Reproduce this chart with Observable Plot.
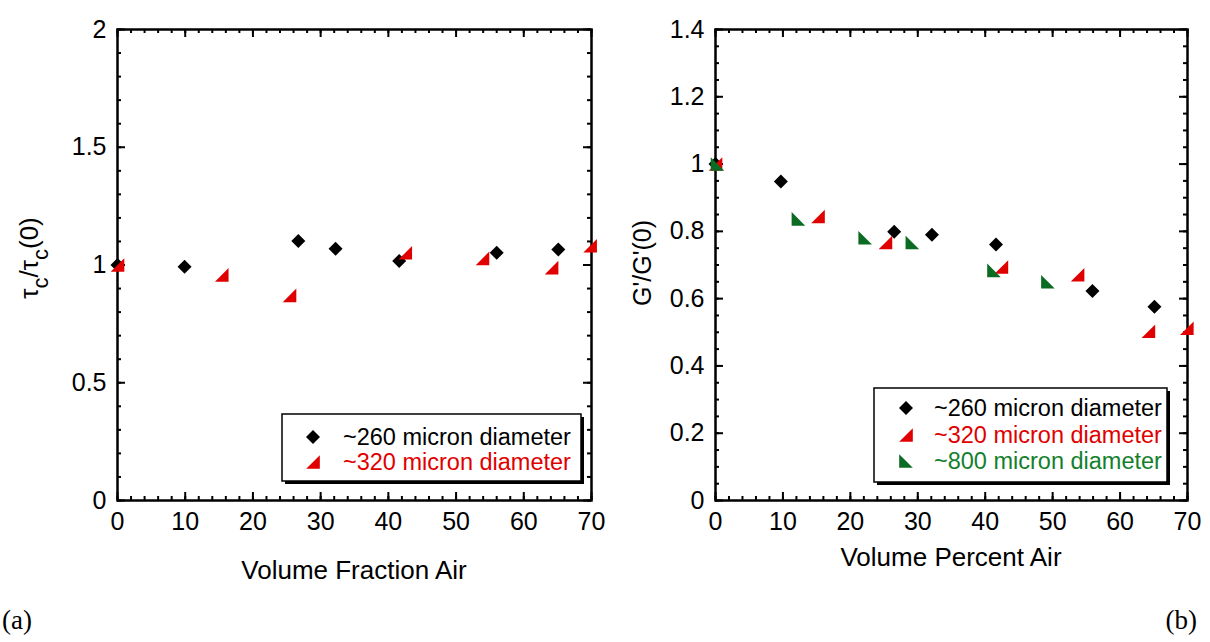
<!DOCTYPE html>
<html><head><meta charset="utf-8">
<script src="https://cdn.jsdelivr.net/npm/d3@7"></script>
<script src="https://cdn.jsdelivr.net/npm/@observablehq/plot@0.6"></script>
<style>
body{margin:0;background:#fff;}
#wrap{position:relative;width:1210px;height:642px;overflow:hidden;background:#fff;}
#wrap svg{position:absolute;top:0;overflow:visible;}
</style></head><body><div id="wrap"></div>
<script>
// ---------- data ----------
const seriesNames = ["~260 micron diameter", "~320 micron diameter", "~800 micron diameter"];
const markerColors = ["#000000", "#e00000", "#0b6b23"];
const textColors = ["#000000", "#e00000", "#13802d"];

// Panel (a): tau_c / tau_c(0) vs volume fraction air
const a260X = [0, 9.9, 26.7, 32.2, 41.6, 56.0, 65.1];
const a260Y = [1.0, 0.993, 1.102, 1.069, 1.017, 1.052, 1.066];
const a320X = [0, 15.4, 25.4, 42.5, 53.9, 64.1, 69.8];
const a320Y = [1.0, 0.958, 0.871, 1.052, 1.028, 0.989, 1.082];

// Panel (b): G'/G'(0) vs volume percent air
const b260X = [0, 9.7, 26.5, 32.1, 41.6, 55.9, 65.1];
const b260Y = [1.0, 0.948, 0.799, 0.790, 0.761, 0.623, 0.576];
const b320X = [0, 15.2, 25.2, 42.4, 53.7, 64.2, 69.9];
const b320Y = [1.0, 0.844, 0.767, 0.694, 0.671, 0.503, 0.512];
const b800X = [0.3, 12.3, 22.2, 29.2, 41.3, 49.3];
const b800Y = [1.0, 0.837, 0.781, 0.767, 0.684, 0.650];

// tick labels
const xTicks = [0, 10, 20, 30, 40, 50, 60, 70];
const aYTicks = [0, 0.5, 1, 1.5, 2];
const bYTicks = [0, 0.2, 0.4, 0.6, 0.8, 1, 1.2, 1.4];

const xTitleA = "Volume Fraction Air";
const xTitleB = "Volume Percent Air";
const yTitleB = "G'/G'(0)";

// ---------- symbols ----------
const rad = s => Math.sqrt(s / Math.PI);
const diamond = {draw(c, s){const r = rad(s); c.moveTo(0,-r); c.lineTo(r,0); c.lineTo(0,r); c.lineTo(-r,0); c.closePath();}};
const triR = {draw(c, s){const r = rad(s); c.moveTo(r,-r); c.lineTo(r,r); c.lineTo(-r,r); c.closePath();}};
const triL = {draw(c, s){const r = rad(s); c.moveTo(-r,-r); c.lineTo(-r,r); c.lineTo(r,r); c.closePath();}};
const symbols = [diamond, triR, triL];
const symR = [7, 6.8, 6.8];

const zipXY = (xs, ys) => xs.map((x, i) => ({x, y: ys[i]}));
const FONT = "'Liberation Sans', Arial, Helvetica, sans-serif";

function panel({series, yMax, yMajor, yMinor, ml, mr}) {
  const W = 605, H = 642, mt = 29, mb = 142;
  const fh = H - mt - mb, fw = W - ml - mr;
  const TL = 8, TM = 4, SW = 2;
  const xMinor = d3.range(0, 70.001, 2);
  const marks = [
    Plot.tickX(xMinor, {x: d => d, insetTop: fh - TM, strokeWidth: SW}),
    Plot.tickX(xMinor, {x: d => d, insetBottom: fh - TM, strokeWidth: SW}),
    Plot.tickX(xTicks, {x: d => d, insetTop: fh - TL, strokeWidth: SW}),
    Plot.tickX(xTicks, {x: d => d, insetBottom: fh - TL, strokeWidth: SW}),
    Plot.tickY(yMinor, {y: d => d, insetRight: fw - TM, strokeWidth: SW}),
    Plot.tickY(yMinor, {y: d => d, insetLeft: fw - TM, strokeWidth: SW}),
    Plot.tickY(yMajor, {y: d => d, insetRight: fw - TL, strokeWidth: SW}),
    Plot.tickY(yMajor, {y: d => d, insetLeft: fw - TL, strokeWidth: SW}),
    Plot.frame({stroke: "#000", strokeWidth: 2.5}),
    Plot.axisX({ticks: xTicks, tickSize: 0, tickPadding: 12, tickFormat: d => String(d), label: null}),
    Plot.axisY({ticks: yMajor, tickSize: 0, tickPadding: 11, tickFormat: d => String(d), label: null}),
    ...series.map(s => Plot.dot(zipXY(s.x, s.y), {x: "x", y: "y", symbol: symbols[s.k], r: symR[s.k], fill: markerColors[s.k], stroke: "none"}))
  ];
  return Plot.plot({
    width: W, height: H, marginTop: mt, marginBottom: mb, marginLeft: ml, marginRight: mr,
    x: {domain: [0, 70]}, y: {domain: [0, yMax]},
    style: {fontFamily: FONT, fontSize: "25px", color: "#000", background: "transparent", overflow: "visible"},
    marks
  });
}

function legend(svg, {x, y, w, h, rows, symX, textX, keys}) {
  const g = d3.select(svg).append("g");
  g.append("rect").attr("x", x + 3).attr("y", y + 3).attr("width", w).attr("height", h).attr("fill", "#000");
  g.append("rect").attr("x", x).attr("y", y).attr("width", w).attr("height", h).attr("fill", "#fff").attr("stroke", "#000").attr("stroke-width", 1.5);
  keys.forEach((k, i) => {
    const p = d3.path(); symbols[k].draw(p, Math.PI * symR[k] * symR[k]);
    g.append("path").attr("d", p.toString()).attr("transform", `translate(${symX},${rows[i]})`).attr("fill", markerColors[k]);
    g.append("text").attr("x", textX).attr("y", rows[i]).attr("dy", "0.36em").attr("text-anchor", "start")
      .attr("font-family", FONT).attr("font-size", 23.5).attr("fill", textColors[k]).text(seriesNames[k]);
  });
}

function addText(svg, x, y, str, opts = {}) {
  return d3.select(svg).append("text").attr("x", x).attr("y", y)
    .attr("font-family", opts.family || FONT).attr("font-size", opts.size || 26)
    .attr("text-anchor", opts.anchor || "middle").attr("fill", "#000").text(str);
}

const wrap = document.getElementById("wrap");

// Panel (a)
const svgA = panel({
  series: [{k: 0, x: a260X, y: a260Y}, {k: 1, x: a320X, y: a320Y}],
  yMax: 2, yMajor: aYTicks, yMinor: d3.range(0, 2.0001, 0.1), ml: 117, mr: 14
});
svgA.style.left = "0px";
wrap.appendChild(svgA);
legend(svgA, {x: 282, y: 414, w: 299, h: 67, rows: [437, 462], symX: 313, textX: 343, keys: [0, 1]});
addText(svgA, 354, 579, xTitleA);
{
  const t = d3.select(svgA).append("text").attr("transform", "translate(38,258) rotate(-90)")
    .attr("text-anchor", "middle").attr("font-family", FONT).attr("font-size", 26).attr("fill", "#000");
  t.append("tspan").text("τ");
  t.append("tspan").attr("font-size", 22).attr("dy", 10).text("c");
  t.append("tspan").attr("dy", -10).text("/τ");
  t.append("tspan").attr("font-size", 22).attr("dy", 10).text("c");
  t.append("tspan").attr("dy", -10).text("(0)");
}
addText(svgA, 2, 629, "(a)", {family: "'Liberation Serif', 'DejaVu Serif', serif", size: 27, anchor: "start"});

// Panel (b)
const svgB = panel({
  series: [{k: 0, x: b260X, y: b260Y}, {k: 1, x: b320X, y: b320Y}, {k: 2, x: b800X, y: b800Y}],
  yMax: 1.4, yMajor: bYTicks, yMinor: d3.range(0, 1.4001, 0.05), ml: 110, mr: 23
});
svgB.style.left = "605px";
wrap.appendChild(svgB);
legend(svgB, {x: 269, y: 388, w: 293, h: 94, rows: [408, 435, 461], symX: 301, textX: 329, keys: [0, 1, 2]});
addText(svgB, 346, 566, xTitleB);
d3.select(svgB).append("text").attr("transform", "translate(46,263) rotate(-90)")
  .attr("text-anchor", "middle").attr("font-family", FONT).attr("font-size", 25).attr("fill", "#000").text(yTitleB);
addText(svgB, 592, 629, "(b)", {family: "'Liberation Serif', 'DejaVu Serif', serif", size: 27, anchor: "end"});
</script>
</body></html>
